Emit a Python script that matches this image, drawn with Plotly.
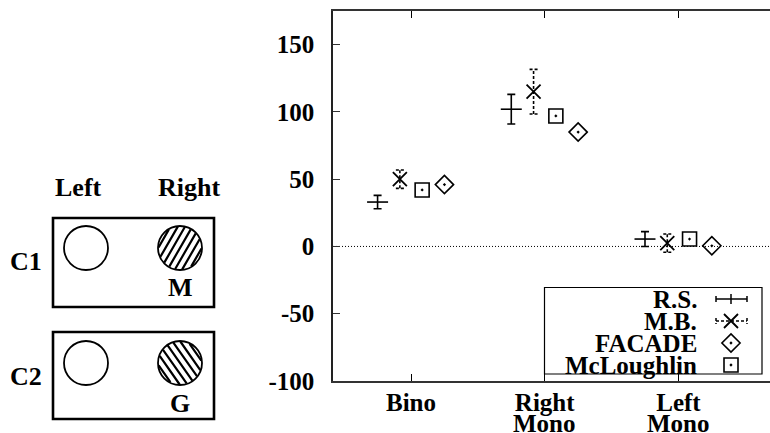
import math
import plotly.graph_objects as go

# ---- data ----
categories = ["Bino", "Right", "Left"]
categories_line2 = ["", "Mono", "Mono"]
cat_pos = [1, 2, 3]
rs_vals = [33, 102, 5.5]
rs_err = [5, 11, 5.5]
mb_vals = [50, 115, 2.5]
mb_err = [6.8, 16.6, 6.8]
mcl_vals = [42, 97, 5.5]
facade_vals = [46, 85, 0.5]
y_ticks = [-100, -50, 0, 50, 100, 150]
offsets = {"rs": -0.25, "mb": -0.0833, "mcl": 0.0833, "facade": 0.25}

FONT = "Liberation Serif"
FS = 25
W, H = 770, 433
BLACK = "#000000"

fig = go.Figure()

def xs(key):
    return [c + offsets[key] for c in cat_pos]

# R.S. : plus with solid error bars
fig.add_trace(go.Scatter(
    x=xs("rs"), y=rs_vals, mode="markers",
    marker=dict(symbol="line-ew", size=15, line=dict(width=1.6, color=BLACK), color=BLACK),
    error_y=dict(type="data", array=rs_err, visible=True, color=BLACK, thickness=1.6, width=4),
    showlegend=False, xaxis="x", yaxis="y"))

# M.B. : dashed error bars (built from data) + x marker
cap = 4 / 133.7
ex, ey = [], []
for x, v, e in zip(xs("mb"), mb_vals, mb_err):
    ex += [x, x, None, x - cap, x + cap, None, x - cap, x + cap, None]
    ey += [v - e, v + e, None, v + e, v + e, None, v - e, v - e, None]
fig.add_trace(go.Scatter(x=ex, y=ey, mode="lines",
                         line=dict(color=BLACK, width=1.6, dash="3px,2px"),
                         showlegend=False, hoverinfo="skip"))
fig.add_trace(go.Scatter(
    x=xs("mb"), y=mb_vals, mode="markers",
    marker=dict(symbol="x-thin", size=14, line=dict(width=1.8, color=BLACK), color=BLACK),
    showlegend=False))

# McLoughlin : open square with dot
fig.add_trace(go.Scatter(
    x=xs("mcl"), y=mcl_vals, mode="markers",
    marker=dict(symbol="square-open-dot", size=14, line=dict(width=1.6, color=BLACK), color=BLACK),
    showlegend=False))

# FACADE : open diamond with dot
fig.add_trace(go.Scatter(
    x=xs("facade"), y=facade_vals, mode="markers",
    marker=dict(symbol="diamond-open-dot", size=14, line=dict(width=1.6, color=BLACK), color=BLACK),
    showlegend=False))

# ---- legend keys (overlay pixel axes x3/y3) ----
lx_text = 699
lx_key = 731
rows = [299, 321, 343, 365]
kl, kr = 716, 747
fig.add_trace(go.Scatter(
    x=[kl, kr, None, kl, kl, None, kr, kr, None, lx_key, lx_key],
    y=[rows[0], rows[0], None, rows[0] - 3, rows[0] + 3, None, rows[0] - 3, rows[0] + 3, None,
       rows[0] - 5, rows[0] + 5],
    mode="lines", line=dict(color=BLACK, width=1.5), xaxis="x3", yaxis="y3",
    showlegend=False, hoverinfo="skip"))
fig.add_trace(go.Scatter(
    x=[kl, kr, None, kl, kl, None, kr, kr],
    y=[rows[1], rows[1], None, rows[1] - 3, rows[1] + 3, None, rows[1] - 3, rows[1] + 3],
    mode="lines", line=dict(color=BLACK, width=1.5, dash="3px,2px"), xaxis="x3", yaxis="y3",
    showlegend=False, hoverinfo="skip"))
fig.add_trace(go.Scatter(
    x=[lx_key], y=[rows[1]], mode="markers",
    marker=dict(symbol="x-thin", size=14, line=dict(width=1.8, color=BLACK)),
    xaxis="x3", yaxis="y3", showlegend=False, hoverinfo="skip"))
fig.add_trace(go.Scatter(
    x=[lx_key], y=[rows[2]], mode="markers",
    marker=dict(symbol="diamond-open-dot", size=14, line=dict(width=1.6, color=BLACK), color=BLACK),
    xaxis="x3", yaxis="y3", showlegend=False, hoverinfo="skip"))
fig.add_trace(go.Scatter(
    x=[lx_key], y=[rows[3]], mode="markers",
    marker=dict(symbol="square-open-dot", size=14, line=dict(width=1.6, color=BLACK), color=BLACK),
    xaxis="x3", yaxis="y3", showlegend=False, hoverinfo="skip"))

legend_names = ["R.S.", "M.B.", "FACADE", "McLoughlin"]
annotations = []
for name, ry in zip(legend_names, rows):
    annotations.append(dict(x=lx_text, y=ry, xref="x3", yref="y3", text=name,
                            xanchor="right", yanchor="middle", showarrow=False,
                            font=dict(family=FONT, size=FS, color=BLACK, weight="bold")))

# second line of the category labels
for c, t2 in zip(cat_pos, categories_line2):
    if t2:
        annotations.append(dict(x=c, y=423, xref="x", yref="y3", text=t2, showarrow=False,
                                xanchor="center", yanchor="middle",
                                font=dict(family=FONT, size=FS, color=BLACK, weight="bold")))

shapes = []
shapes.append(dict(type="rect", xref="x3", yref="y3", x0=544.5, x1=762, y0=287.5, y1=374,
                   line=dict(color=BLACK, width=1.2), fillcolor="white", layer="below"))
shapes.append(dict(type="line", xref="x domain", yref="y", x0=0, x1=1, y0=0, y1=0,
                   line=dict(color=BLACK, width=1, dash="1px,2px"), layer="below"))

# ---- left schematic ----
def hatch_path(cx, cy, r, ang_deg, spacing):
    a = math.radians(ang_deg)
    t = (math.cos(a), -math.sin(a))
    n = (math.sin(a), math.cos(a))
    parts = []
    k = int(r // spacing)
    for i in range(-k, k + 1):
        d = i * spacing
        if abs(d) >= r:
            continue
        h = math.sqrt(r * r - d * d)
        px, py = cx + d * n[0], cy + d * n[1]
        parts.append(f"M{px - h * t[0]:.2f},{py - h * t[1]:.2f} L{px + h * t[0]:.2f},{py + h * t[1]:.2f}")
    return " ".join(parts)

panels = [("C1", 218, 307, 248, "M", 287, 60), ("C2", 332, 419, 363, "G", 403, -55)]
for lab, top, bot, cy, sub, suby, ang in panels:
    shapes.append(dict(type="rect", xref="x3", yref="y3", x0=53, x1=214, y0=top, y1=bot,
                       line=dict(color=BLACK, width=2.6)))
    shapes.append(dict(type="circle", xref="x3", yref="y3", x0=64, x1=108, y0=cy - 22, y1=cy + 22,
                       line=dict(color=BLACK, width=1.8)))
    shapes.append(dict(type="circle", xref="x3", yref="y3", x0=158, x1=202, y0=cy - 22, y1=cy + 22,
                       line=dict(color=BLACK, width=1.8)))
    shapes.append(dict(type="path", xref="x3", yref="y3", path=hatch_path(180, cy, 21.5, ang, 6.3),
                       line=dict(color=BLACK, width=2.2)))
    annotations.append(dict(x=26, y=cy + 13, xref="x3", yref="y3", text=lab, showarrow=False,
                            xanchor="center", yanchor="middle",
                            font=dict(family=FONT, size=26, color=BLACK, weight="bold")))
    annotations.append(dict(x=180, y=suby, xref="x3", yref="y3", text=sub, showarrow=False,
                            xanchor="center", yanchor="middle",
                            font=dict(family=FONT, size=26, color=BLACK, weight="bold")))

for txt, x in [("Left", 78), ("Right", 189)]:
    annotations.append(dict(x=x, y=187, xref="x3", yref="y3", text=txt, showarrow=False,
                            xanchor="center", yanchor="middle",
                            font=dict(family=FONT, size=26, color=BLACK, weight="bold")))

fig.update_layout(
    template="none",
    width=W, height=H,
    margin=dict(l=0, r=0, t=0, b=0, autoexpand=False),
    paper_bgcolor="white",
    plot_bgcolor="rgba(0,0,0,0)",
    showlegend=False,
    xaxis=dict(domain=[333 / W, 1], range=[0.4166, 3.685], tickvals=cat_pos, ticktext=categories,
               ticks="inside", ticklen=7, tickcolor=BLACK, tickwidth=1.2,
               showline=True, linecolor="#333333", linewidth=1.5, mirror="ticks",
               showgrid=False, zeroline=False, ticklabelstandoff=-2, automargin=False,
               tickfont=dict(family=FONT, size=FS, color=BLACK, weight="bold")),
    yaxis=dict(domain=[(H - 381) / H, (H - 11) / H], range=[-100, 175], tickvals=y_ticks,
               ticktext=[str(v) for v in y_ticks],
               ticks="inside", ticklen=7, tickcolor="#333333", tickwidth=1.2,
               showline=True, linecolor="#222222", linewidth=1.5, mirror=False,
               showgrid=False, zeroline=False, ticklabelstandoff=12, automargin=False,
               tickfont=dict(family=FONT, size=FS, color=BLACK, weight="bold")),
    xaxis3=dict(domain=[0, 1], range=[0, W], visible=False, anchor="y3", automargin=False),
    yaxis3=dict(domain=[0, 1], range=[H, 0], visible=False, anchor="x3", automargin=False),
    shapes=shapes,
    annotations=annotations,
)

fig.write_html("out.html",
               config={"displayModeBar": False},
               post_script="document.body.style.margin='0';document.body.style.padding='0';"
                           "document.body.style.overflow='hidden';")
